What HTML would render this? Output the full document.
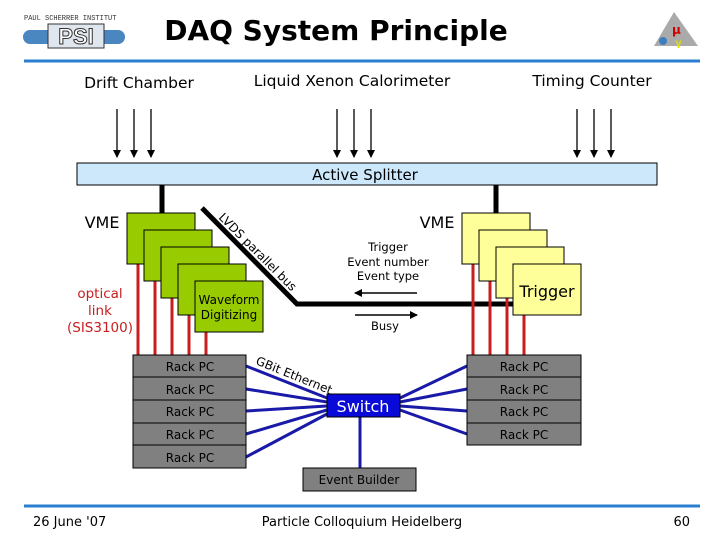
<!DOCTYPE html>
<html><head><meta charset="utf-8"><style>
html,body{margin:0;padding:0;background:#fff;}
svg{display:block;font-family:"DejaVu Sans","Liberation Sans",sans-serif;}
</style></head><body>
<svg width="720" height="540" viewBox="0 0 720 540" xmlns="http://www.w3.org/2000/svg">
<defs>
<marker id="ah" markerWidth="8" markerHeight="8" refX="7" refY="4" orient="auto" markerUnits="userSpaceOnUse"><path d="M0,0 L8,4 L0,8 z" fill="#000"/></marker>
</defs>
<text x="24" y="20" font-size="7" font-family="Liberation Mono,monospace" fill="#333">PAUL SCHERRER INSTITUT</text>
<rect x="23" y="30" width="102" height="14" rx="7" fill="#4a86c0"/>
<rect x="48" y="24" width="56" height="24" fill="#dfe6ee" stroke="#333" stroke-width="1"/>
<text x="76" y="44" font-size="22" font-weight="bold" text-anchor="middle" fill="#fff" stroke="#333" stroke-width="1" font-family="Liberation Sans,sans-serif">PSI</text>
<text x="336" y="40" font-size="28" font-weight="bold" text-anchor="middle" fill="#000">DAQ System Principle</text>
<polygon points="674,12 654,46 698,46" fill="#aaa"/>
<text x="672" y="34" font-size="12" fill="#c00" font-weight="bold">μ</text>
<circle cx="663" cy="41" r="4" fill="#3a7fc0"/><text x="675" y="46" font-size="10" fill="#dd0" font-weight="bold">γ</text>
<line x1="24" y1="61" x2="700" y2="61" stroke="#2a7fd0" stroke-width="3"/>
<line x1="24" y1="506" x2="700" y2="506" stroke="#2a7fd0" stroke-width="3"/>
<g font-size="15.5" text-anchor="middle">
<text x="139" y="88">Drift Chamber</text>
<text x="352" y="86">Liquid Xenon Calorimeter</text>
<text x="592" y="86">Timing Counter</text>
</g>
<g stroke="#000" stroke-width="1.3" marker-end="url(#ah)">
<line x1="117" y1="109" x2="117" y2="157"/><line x1="134" y1="109" x2="134" y2="157"/><line x1="151" y1="109" x2="151" y2="157"/>
<line x1="337" y1="109" x2="337" y2="157"/><line x1="354" y1="109" x2="354" y2="157"/><line x1="371" y1="109" x2="371" y2="157"/>
<line x1="577" y1="109" x2="577" y2="157"/><line x1="594" y1="109" x2="594" y2="157"/><line x1="611" y1="109" x2="611" y2="157"/>
</g>
<rect x="77" y="163" width="580" height="22" fill="#cce8fa" stroke="#000" stroke-width="1"/>
<text x="365" y="180" font-size="15" text-anchor="middle">Active Splitter</text>
<line x1="162" y1="185" x2="162" y2="213" stroke="#000" stroke-width="5"/>
<line x1="496" y1="185" x2="496" y2="213" stroke="#000" stroke-width="5"/>
<polyline points="202,208 297,304 515,304" fill="none" stroke="#000" stroke-width="5"/>
<text x="218" y="218" font-size="12" transform="rotate(45 218 218)">LVDS parallel bus</text>
<g stroke="#c81e1e" stroke-width="3">
<line x1="138" y1="264" x2="138" y2="355"/><line x1="155" y1="281" x2="155" y2="355"/><line x1="172" y1="298" x2="172" y2="355"/><line x1="189" y1="315" x2="189" y2="355"/><line x1="206" y1="332" x2="206" y2="355"/>
<line x1="473" y1="264" x2="473" y2="355"/><line x1="490" y1="281" x2="490" y2="355"/><line x1="507" y1="298" x2="507" y2="355"/><line x1="524" y1="315" x2="524" y2="355"/>
</g>
<g fill="#99cc00" stroke="#000" stroke-width="1">
<rect x="127" y="213" width="68" height="51"/><rect x="144" y="230" width="68" height="51"/><rect x="161" y="247" width="68" height="51"/><rect x="178" y="264" width="68" height="51"/><rect x="195" y="281" width="68" height="51"/>
</g>
<text x="229" y="304" font-size="12" text-anchor="middle">Waveform</text>
<text x="229" y="319" font-size="12" text-anchor="middle">Digitizing</text>
<g fill="#ffff99" stroke="#000" stroke-width="1">
<rect x="462" y="213" width="68" height="51"/><rect x="479" y="230" width="68" height="51"/><rect x="496" y="247" width="68" height="51"/><rect x="513" y="264" width="68" height="51"/>
</g>
<text x="547" y="297" font-size="16" text-anchor="middle">Trigger</text>
<text x="102" y="228" font-size="16" text-anchor="middle">VME</text>
<text x="437" y="228" font-size="16" text-anchor="middle">VME</text>
<g font-size="13.5" fill="#c81e1e" text-anchor="middle">
<text x="100" y="298">optical</text><text x="100" y="315">link</text><text x="100" y="332">(SIS3100)</text>
</g>
<g font-size="11.5" text-anchor="middle">
<text x="388" y="251">Trigger</text><text x="388" y="266">Event number</text><text x="388" y="280">Event type</text>
<text x="385" y="330">Busy</text>
</g>
<line x1="417" y1="293" x2="355" y2="293" stroke="#000" stroke-width="1.5" marker-end="url(#ah)"/>
<line x1="355" y1="315" x2="417" y2="315" stroke="#000" stroke-width="1.5" marker-end="url(#ah)"/>
<g stroke="#1a1aa8" stroke-width="3">
<line x1="246" y1="366" x2="327" y2="398"/><line x1="246" y1="389" x2="327" y2="402"/><line x1="246" y1="411" x2="327" y2="406"/><line x1="246" y1="434" x2="327" y2="410"/><line x1="246" y1="457" x2="327" y2="414"/>
<line x1="400" y1="398" x2="467" y2="366"/><line x1="400" y1="402" x2="467" y2="389"/><line x1="400" y1="406" x2="467" y2="411"/><line x1="400" y1="410" x2="467" y2="434"/>
<line x1="360" y1="417" x2="360" y2="468"/>
</g>
<g fill="#808080" stroke="#000" stroke-width="1">
<rect x="133" y="355" width="113" height="22"/><rect x="133" y="377" width="113" height="23"/><rect x="133" y="400" width="113" height="23"/><rect x="133" y="423" width="113" height="22"/><rect x="133" y="445" width="113" height="23"/>
<rect x="467" y="355" width="114" height="22"/><rect x="467" y="377" width="114" height="23"/><rect x="467" y="400" width="114" height="23"/><rect x="467" y="423" width="114" height="22"/>
<rect x="303" y="468" width="113" height="23"/>
</g>
<g font-size="12" text-anchor="middle">
<text x="190" y="371">Rack PC</text><text x="190" y="394">Rack PC</text><text x="190" y="416">Rack PC</text><text x="190" y="439">Rack PC</text><text x="190" y="462">Rack PC</text>
<text x="524" y="371">Rack PC</text><text x="524" y="394">Rack PC</text><text x="524" y="416">Rack PC</text><text x="524" y="439">Rack PC</text>
<text x="359" y="484">Event Builder</text>
</g>
<rect x="327" y="394" width="73" height="23" fill="#0a0ad8" stroke="#000" stroke-width="1"/>
<text x="363" y="412" font-size="16" fill="#fff" text-anchor="middle">Switch</text>
<text x="255" y="364" font-size="12" transform="rotate(22 255 364)">GBit Ethernet</text>
<g font-size="13">
<text x="33" y="526">26 June '07</text>
<text x="362" y="526" text-anchor="middle">Particle Colloquium Heidelberg</text>
<text x="690" y="526" text-anchor="end">60</text>
</g>
</svg>
</body></html>
